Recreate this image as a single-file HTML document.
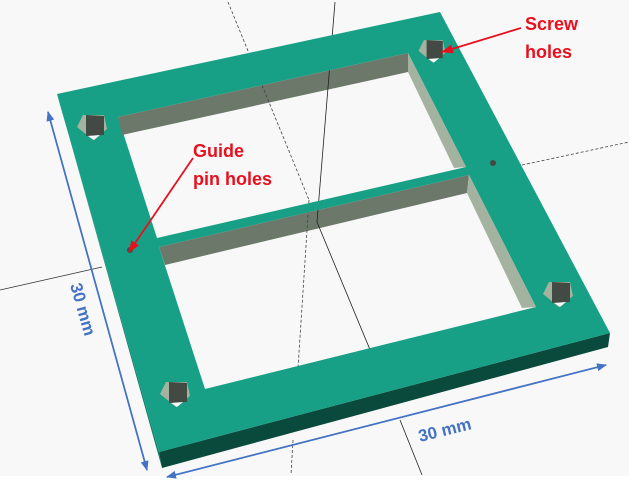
<!DOCTYPE html>
<html><head><meta charset="utf-8"><style>
html,body{margin:0;padding:0;background:#fff;}
svg{display:block;}
text{font-family:"Liberation Sans",sans-serif;font-weight:bold;}
</style></head><body>
<svg width="629" height="491" viewBox="0 0 629 491" xmlns="http://www.w3.org/2000/svg">
<defs>
<marker id="ar" markerWidth="10" markerHeight="8" refX="9" refY="4" orient="auto" markerUnits="userSpaceOnUse"><path d="M0,0 L10,4 L0,8 z" fill="#4472c4"/></marker>
<marker id="rr" markerWidth="12" markerHeight="9" refX="11" refY="4.5" orient="auto" markerUnits="userSpaceOnUse"><path d="M0,0 L12,4.5 L0,9 z" fill="#e8101e"/></marker>
<clipPath id="holes">
<polygon points="118,117 408,53 466,167 157,238"/>
<polygon points="159,247 469,175 536,307 205,389"/>
</clipPath>
<g id="hole">
<polygon points="-15,1 -9,-11 12,-11 15,3 1,14" fill="#a3b3a0"/>
<polygon points="-6,-11 12,-10 12,9 -6,10" fill="#434a43"/>
<polygon points="-4,10 8,9 2,14" fill="#f8f8f8"/>
</g>
</defs>
<rect x="0" y="0" width="629" height="476" fill="#f8f8f8"/>
<g fill="none" stroke-width="0.8">
<line x1="0" y1="290" x2="102" y2="267" stroke="#333"/>
<line x1="522" y1="165" x2="629" y2="142" stroke="#444" stroke-dasharray="3,2"/>
<line x1="228" y1="2" x2="309" y2="200" stroke="#444" stroke-dasharray="3,2"/>
<line x1="335" y1="2" x2="317" y2="222" stroke="#222"/>
<line x1="400" y1="420" x2="422" y2="475" stroke="#222"/>
<line x1="293" y1="440" x2="291" y2="475" stroke="#444" stroke-dasharray="3,2"/>
</g>
<g>
<polygon points="57,94 159,452 162,468 60,104" fill="#10806a"/>
<polygon points="159,452 610,333 608,347 162,468" fill="#0a4a3c"/>
<polygon points="57,94 440,12 610,333 159,452" fill="#17a085"/>
<polygon points="118,117 408,53 466,167 157,238" fill="#f8f8f8"/>
<polygon points="118,117 408,53 408,72 122,135" fill="#6b786a"/>
<polygon points="408,53 466,167 454,168 408,72" fill="#a3b3a0"/>
<polygon points="159,247 469,175 536,307 205,389" fill="#f8f8f8"/>
<polygon points="159,247 469,175 467,193 165,265" fill="#6b786a"/>
<polygon points="469,175 536,307 522,308 467,193" fill="#a3b3a0"/>
</g>
<g fill="none" stroke-width="0.8" clip-path="url(#holes)">
<line x1="335" y1="2" x2="317" y2="222" stroke="#222"/>
<line x1="317" y1="222" x2="422" y2="475" stroke="#222"/>
<line x1="228" y1="2" x2="309" y2="200" stroke="#444" stroke-dasharray="3,2"/>
<line x1="309" y1="200" x2="291" y2="475" stroke="#444" stroke-dasharray="3,2"/>
<line x1="522" y1="165" x2="629" y2="142" stroke="#444" stroke-dasharray="3,2"/>
</g>
<g>
<use href="#hole" transform="translate(432,50) scale(0.9)"/>
<use href="#hole" transform="translate(92,126)"/>
<use href="#hole" transform="translate(558,293)"/>
<use href="#hole" transform="translate(175,393)"/>
</g>
<g>
<circle cx="130" cy="250" r="3" fill="#434a43"/>
<circle cx="493" cy="163" r="3" fill="#434a43"/>
</g>
<g stroke="#4472c4" stroke-width="1.6" fill="none">
<line x1="147" y1="470" x2="48" y2="112" marker-end="url(#ar)"/>
<line x1="48" y1="112" x2="147" y2="470" marker-end="url(#ar)"/>
<line x1="606" y1="365" x2="167" y2="477" marker-end="url(#ar)"/>
<line x1="167" y1="477" x2="606" y2="365" marker-end="url(#ar)"/>
</g>
<text x="0" y="0" font-size="17" fill="#4472c4" transform="translate(70,285) rotate(74)">30 mm</text>
<text x="0" y="0" font-size="17" fill="#4472c4" transform="translate(420,442) rotate(-14)">30 mm</text>
<g stroke="#e8101e" stroke-width="1.8" fill="none">
<line x1="521" y1="28" x2="442" y2="52" marker-end="url(#rr)"/>
<line x1="193" y1="158" x2="129" y2="252" marker-end="url(#rr)"/>
</g>
<text x="525" y="30" font-size="18" fill="#e8101e">Screw</text>
<text x="525" y="58" font-size="18" fill="#e8101e">holes</text>
<text x="193" y="157" font-size="18" fill="#e8101e">Guide</text>
<text x="193" y="185" font-size="18" fill="#e8101e">pin holes</text>
</svg>
</body></html>
